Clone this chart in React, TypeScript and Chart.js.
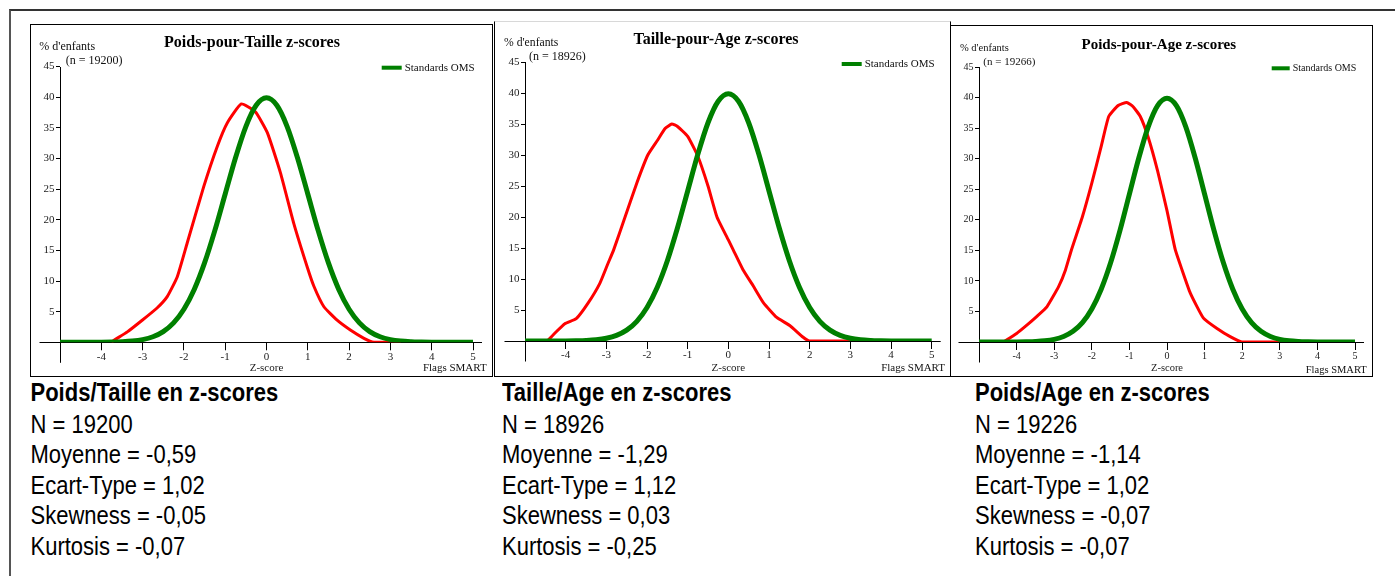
import React, { useEffect, useRef } from "react";
import { Chart, registerables } from "chart.js";

Chart.register(...registerables);

// ---------------- data ----------------
const chartTitles = ["Poids-pour-Taille z-scores", "Taille-pour-Age z-scores", "Poids-pour-Age z-scores"];
const sampleSizes = ["(n = 19200)", "(n = 18926)", "(n = 19266)"];
const yAxisLabel = "% d'enfants";
const xAxisLabel = "Z-score";
const flagsLabel = "Flags SMART";
const standardLabel = "Standards OMS";
const surveyLabel = "Enquête";

const xTicks = [-4, -3, -2, -1, 0, 1, 2, 3, 4, 5];
const yTicks = [5, 10, 15, 20, 25, 30, 35, 40, 45];

// WHO standard curve (green)
const greenZ = [-5, -4.75, -4.5, -4.25, -4, -3.75, -3.5, -3.25, -3, -2.75, -2.5, -2.25, -2, -1.75, -1.5, -1.25, -1, -0.75, -0.5, -0.25, 0,
  0.25, 0.5, 0.75, 1, 1.25, 1.5, 1.75, 2, 2.25, 2.5, 2.75, 3, 3.25, 3.5, 3.75, 4, 4.25, 4.5, 4.75, 5];
const greenV = [0, 0, 0, 0, 0.01, 0.04, 0.09, 0.2, 0.44, 0.91, 1.75, 3.17, 5.4, 8.63, 12.95, 18.26, 24.2, 30.11, 35.2, 38.67, 39.89,
  38.67, 35.2, 30.11, 24.2, 18.26, 12.95, 8.63, 5.4, 3.17, 1.75, 0.91, 0.44, 0.2, 0.09, 0.04, 0.01, 0, 0, 0, 0];

// Survey curves (red)
const red1Z = [-3.75, -3.7, -3.37, -3.01, -2.65, -2.4, -2.16, -1.92, -1.52, -1.19, -0.95, -0.61, -0.27, 0.02, 0.34, 0.66, 0.99, 1.15, 1.39, 1.71, 2.03, 2.36, 2.6, 3.25];
const red1V = [0, 0.3, 1.7, 3.6, 5.6, 7.5, 10.7, 16.2, 25.4, 32.0, 35.8, 38.9, 37.6, 34.2, 27.6, 19.4, 12.2, 9.1, 5.8, 3.6, 2.0, 0.65, 0, 0];

const red2Z = [-4.45, -4.23, -4.02, -3.74, -3.45, -3.16, -2.96, -2.82, -2.54, -2.25, -1.98, -1.75, -1.55, -1.39, -1.25, -1.0, -0.75, -0.5, -0.28, 0.0, 0.12, 0.36, 0.61, 0.86, 1.19, 1.51, 1.84, 2.0, 3.25];
const red2V = [0, 1.5, 2.8, 3.6, 6.1, 9.3, 12.5, 14.7, 20.0, 25.5, 30.0, 32.3, 34.3, 35.0, 34.6, 33.0, 29.8, 25.0, 20.0, 16.3, 14.7, 11.5, 8.9, 6.2, 3.8, 2.5, 0.6, 0, 0];

const red3Z = [-4.35, -4.0, -3.72, -3.46, -3.19, -2.88, -2.7, -2.54, -2.25, -2.0, -1.75, -1.55, -1.3, -1.07, -0.9, -0.71, -0.5, -0.25, 0.0, 0.22, 0.4, 0.62, 0.97, 1.33, 1.68, 1.99, 3.25];
const red3V = [0, 1.4, 2.8, 4.2, 5.8, 9.1, 11.8, 15.1, 20.5, 26.0, 32.0, 36.9, 38.7, 39.2, 38.5, 36.9, 33.5, 28.0, 21.5, 15.1, 11.8, 8.0, 3.9, 2.2, 0.87, 0, 0];

const redZ = [red1Z, red2Z, red3Z];
const redV = [red1V, red2V, red3V];

// Summary statistics
const statTitles = ["Poids/Taille en z-scores", "Taille/Age en z-scores", "Poids/Age en z-scores"];
const statN = ["19200", "18926", "19226"];
const statMean = ["-0,59", "-1,29", "-1,14"];
const statSD = ["1,02", "1,12", "1,02"];
const statSkew = ["-0,05", "0,03", "-0,07"];
const statKurt = ["-0,07", "-0,25", "-0,07"];

// ---------------- layout (positions / styles only) ----------------
const SERIF = '"Liberation Serif", "Times New Roman", serif';

type Layout = {
  left: number; top: number; width: number; height: number;
  borderTop: string;
  padL: number; padR: number; yAxisW: number; xAxisH: number;
  titleSize: number; titleTop: number; titleBottom: number;
  tickSize: number; axisTitleSize: number;
  smallSize: number; nSize: number; legendSize: number; legendLen: number;
  yLab: [number, number]; nLab: [number, number]; legend: [number, number]; flags: [number, number];
  statLeft: number;
};

const layouts: Layout[] = [
  {
    left: 30, top: 24, width: 463, height: 353, borderTop: "1px solid #000",
    padL: 0, padR: 19, yAxisW: 29, xAxisH: 33.7,
    titleSize: 16, titleTop: 7.9, titleBottom: 14.4,
    tickSize: 11, axisTitleSize: 11, smallSize: 12, nSize: 12, legendSize: 11, legendLen: 20,
    yLab: [8.3, 21.7], nLab: [34.7, 36.3], legend: [350.7, 42.7], flags: [455.7, 343],
    statLeft: 30.5,
  },
  {
    left: 494, top: 21, width: 457, height: 356, borderTop: "1px solid #d8d8d8",
    padL: 5.3, padR: 18.3, yAxisW: 24.7, xAxisH: 35,
    titleSize: 16, titleTop: 8.6, titleBottom: 12.2,
    tickSize: 11, axisTitleSize: 11, smallSize: 11.7, nSize: 12, legendSize: 11, legendLen: 20,
    yLab: [9, 21.3], nLab: [34, 35.3], legend: [346.7, 42], flags: [450, 346.3],
    statLeft: 502,
  },
  {
    left: 950, top: 25, width: 423, height: 352, borderTop: "1px solid #000",
    padL: 11.6, padR: 17, yAxisW: 16.4, xAxisH: 34,
    titleSize: 15, titleTop: 9.8, titleBottom: 13.2,
    tickSize: 10, axisTitleSize: 10.5, smallSize: 10.5, nSize: 11, legendSize: 10, legendLen: 18,
    yLab: [9, 22.3], nLab: [32.3, 36.3], legend: [320.7, 42.3], flags: [415.7, 344],
    statLeft: 975,
  },
];

// ---------------- plugin: axis lines + annotations ----------------
const decorPlugin = {
  id: "panelDecor",
  beforeDatasetsDraw(chart: any, _args: any, opts: any) {
    const { ctx, chartArea: a } = chart;
    const L = Math.round(a.left) + 0.5;
    const B = Math.round(a.bottom) + 0.5;
    ctx.save();
    ctx.strokeStyle = "#000";
    ctx.lineWidth = 1;
    ctx.beginPath();
    ctx.moveTo(a.left - 20.5, B);
    ctx.lineTo(a.right + 9, B);
    ctx.moveTo(L, Math.round(a.top));
    ctx.lineTo(L, a.bottom + 20.5);
    ctx.stroke();
    ctx.restore();
  },
  afterDraw(chart: any, _args: any, opts: any) {
    const { ctx } = chart;
    const ds = chart.data.datasets[0];
    ctx.save();
    ctx.fillStyle = "#111";
    ctx.textBaseline = "middle";
    ctx.textAlign = "left";
    ctx.font = `${opts.smallSize}px ${SERIF}`;
    ctx.fillText(opts.yText, opts.yLab[0], opts.yLab[1]);
    ctx.font = `${opts.nSize}px ${SERIF}`;
    ctx.fillText(opts.nText, opts.nLab[0], opts.nLab[1]);
    // legend
    ctx.strokeStyle = ds.borderColor;
    ctx.lineWidth = 4;
    ctx.beginPath();
    ctx.moveTo(opts.legend[0], opts.legend[1]);
    ctx.lineTo(opts.legend[0] + opts.legendLen, opts.legend[1]);
    ctx.stroke();
    ctx.font = `${opts.legendSize}px ${SERIF}`;
    ctx.fillText(ds.label, opts.legend[0] + opts.legendLen + 3, opts.legend[1]);
    // flags
    ctx.textAlign = "right";
    ctx.font = `${opts.axisTitleSize}px ${SERIF}`;
    ctx.fillText(opts.flagsText, opts.flags[0], opts.flags[1]);
    ctx.restore();
  },
};

function ZPanel({ idx }: { idx: number }) {
  const ref = useRef<HTMLCanvasElement>(null);
  const L = layouts[idx];
  const cw = L.width - 2;
  const ch = L.height - 2;

  useEffect(() => {
    if (!ref.current) return;
    const greenPts = greenZ.map((z, i) => ({ x: z, y: greenV[i] }));
    const redPts = redZ[idx].map((z, i) => ({ x: z, y: redV[idx][i] }));
    const chart = new Chart(ref.current, {
      type: "line",
      data: {
        datasets: [
          {
            label: standardLabel,
            data: greenPts,
            borderColor: "#008000",
            backgroundColor: "#008000",
            borderWidth: 5,
            pointRadius: 0,
            cubicInterpolationMode: "monotone",
            borderCapStyle: "round",
            borderJoinStyle: "round",
          },
          {
            label: surveyLabel,
            data: redPts,
            borderColor: "#ff0000",
            backgroundColor: "#ff0000",
            borderWidth: 3,
            pointRadius: 0,
            tension: 0.15,
            borderJoinStyle: "round",
          },
        ],
      },
      options: {
        responsive: false,
        animation: false,
        devicePixelRatio: 1,
        layout: { padding: { left: L.padL, right: L.padR, top: 0, bottom: 0 } },
        plugins: {
          legend: { display: false },
          tooltip: { enabled: false },
          title: {
            display: true,
            text: chartTitles[idx],
            color: "#000",
            font: { family: SERIF, size: L.titleSize, weight: "bold" },
            padding: { top: L.titleTop, bottom: L.titleBottom },
          },
          panelDecor: {
            yText: yAxisLabel,
            nText: sampleSizes[idx],
            flagsText: flagsLabel,
            smallSize: L.smallSize,
            nSize: L.nSize,
            legendSize: L.legendSize,
            legendLen: L.legendLen,
            axisTitleSize: L.axisTitleSize,
            yLab: L.yLab,
            nLab: L.nLab,
            legend: L.legend,
            flags: L.flags,
          },
        } as any,
        scales: {
          x: {
            type: "linear",
            min: -5,
            max: 5,
            afterBuildTicks: (s: any) => { s.ticks = xTicks.map((v) => ({ value: v })); },
            afterFit: (s: any) => { s.height = L.xAxisH; },
            grid: { drawOnChartArea: false, drawTicks: true, tickLength: 8, color: "#000", lineWidth: 1 },
            border: { display: false },
            ticks: { color: "#222", font: { family: SERIF, size: L.tickSize }, padding: 0, maxRotation: 0, autoSkip: false },
            title: {
              display: true,
              text: xAxisLabel,
              color: "#222",
              font: { family: SERIF, size: L.axisTitleSize },
              padding: { top: 0, bottom: 1.4 },
            },
          },
          y: {
            type: "linear",
            min: 0,
            max: 45,
            afterBuildTicks: (s: any) => { s.ticks = yTicks.map((v) => ({ value: v })); },
            afterFit: (s: any) => { s.width = L.yAxisW; },
            grid: { drawOnChartArea: false, drawTicks: true, tickLength: 4, color: "#000", lineWidth: 1 },
            border: { display: false },
            ticks: { color: "#222", font: { family: SERIF, size: L.tickSize }, padding: 1.5 },
          },
        },
      } as any,
      plugins: [decorPlugin as any],
    });
    return () => chart.destroy();
  }, [idx]);

  return (
    <div
      style={{
        position: "absolute",
        left: L.left,
        top: L.top,
        width: L.width,
        height: L.height,
        boxSizing: "border-box",
        borderLeft: "1px solid #000",
        borderRight: "1px solid #000",
        borderBottom: "1px solid #000",
        borderTop: L.borderTop,
        background: "#fff",
      }}
    >
      <canvas ref={ref} width={cw} height={ch} style={{ display: "block", width: cw, height: ch }} />
    </div>
  );
}

function StatBlock({ idx }: { idx: number }) {
  const L = layouts[idx];
  return (
    <div
      style={{
        position: "absolute",
        left: L.statLeft,
        top: 377.5,
        transform: "scaleY(1.16)",
        transformOrigin: "top left",
        fontFamily: '"Liberation Sans", Arial, sans-serif',
        fontSize: 22,
        lineHeight: "26.55px",
        color: "#000",
        whiteSpace: "nowrap",
      }}
    >
      <div style={{ fontWeight: "bold" }}>{statTitles[idx]}</div>
      <div>N = {statN[idx]}</div>
      <div>Moyenne = {statMean[idx]}</div>
      <div>Ecart-Type = {statSD[idx]}</div>
      <div>Skewness = {statSkew[idx]}</div>
      <div>Kurtosis = {statKurt[idx]}</div>
    </div>
  );
}

export default function App() {
  return (
    <div style={{ position: "absolute", left: 0, top: 0, width: 1395, height: 576, overflow: "hidden", background: "#fff" }}>
      <div
        style={{
          position: "absolute",
          left: 9,
          top: 9,
          width: 1400,
          height: 600,
          borderTop: "2px solid #333",
          borderLeft: "2px solid #555",
        }}
      />
      {[0, 1, 2].map((i) => (
        <ZPanel key={"p" + i} idx={i} />
      ))}
      {[0, 1, 2].map((i) => (
        <StatBlock key={"s" + i} idx={i} />
      ))}
    </div>
  );
}
